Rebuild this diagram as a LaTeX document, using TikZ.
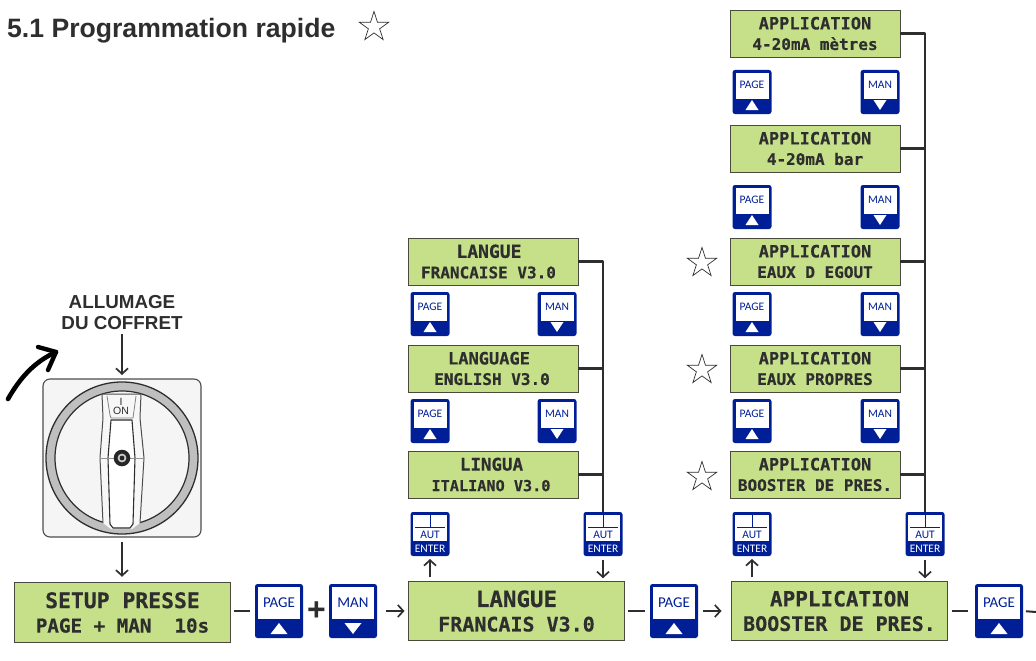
\documentclass[tikz,border=0pt]{standalone}
\usepackage{fontspec}
\setmainfont{Liberation Sans}
\newfontfamily\lcdfont{DejaVu Sans Mono}[BoldFeatures={FakeBold=0.4}]
\newfontfamily\keyfont{Carlito}
\usetikzlibrary{arrows.meta,shapes.geometric,calc}
\definecolor{lcdgreen}{HTML}{C6E08A}
\definecolor{lcdedge}{HTML}{4A4A3C}
\definecolor{keyblue}{HTML}{001F96}
\definecolor{inkdark}{HTML}{2E2E2E}
\tikzset{
  lcdbig/.style={draw=lcdedge,line width=0.9pt,fill=lcdgreen,minimum width=216,minimum height=59.5,inner sep=0,outer sep=0,align=center,text=inkdark,
    font=\lcdfont\bfseries\fontsize{20}{24.5}\selectfont},
  lcdsmall/.style={draw=lcdedge,line width=0.9pt,fill=lcdgreen,minimum width=170,minimum height=47,inner sep=0,outer sep=0,align=center,text=inkdark,
    font=\lcdfont\bfseries\fontsize{16}{20.5}\selectfont},
  keybig/.style={fill=keyblue,rounded corners=2.5pt,minimum width=48,minimum height=54,inner sep=0,outer sep=0},
  keysmall/.style={fill=keyblue,rounded corners=2.5pt,minimum width=39,minimum height=44,inner sep=0,outer sep=0},
  keylabel/.style={text=keyblue,inner sep=0,font=\keyfont\fontsize{#1}{#1}\selectfont},
  link/.style={draw=inkdark,line width=2pt},
  arrowlink/.style={draw=inkdark,line width=1.9pt,-{Straight Barb[length=5.5pt,width=12pt,line width=1.7pt]}},
  branch/.style={draw=inkdark,line width=2.1pt,line join=round},
  openstar/.style={draw=inkdark,line width=0.7pt,shape=star,star points=5,star point ratio=2.618,minimum size=31,inner sep=0,fill=white},
  heading/.style={text=inkdark,inner sep=0,font=\bfseries\fontsize{18.8}{21}\selectfont,align=center}
}
\newcommand{\fs}[1]{\fontsize{#1}{20.5}\selectfont}
\newcommand{\fb}[1]{\fontsize{#1}{24.5}\selectfont}
\newcommand{\bigkey}[5]{%
  \node[keybig] (#1) at (#2,#3) {};
  \fill[white] (#2-21,#3-24) rectangle (#2+21,#3+8);
  \node[keylabel=15] (#1t) at (#2,#3-8) {#4};
  \fill[white] (#2,{#3+23-(#5+1)/2*11}) -- (#2-8.5,{#3+23-(1-#5)/2*11}) -- (#2+8.5,{#3+23-(1-#5)/2*11}) -- cycle;
}
\newcommand{\smallkey}[5]{%
  \node[keysmall] (#1) at (#2,#3) {};
  \fill[white] (#2-16.5,#3-19) rectangle (#2+16.5,#3+7);
  \node[keylabel=11.5] (#1t) at (#2,#3-7) {#4};
  \fill[white] (#2,{#3+18-(#5+1)/2*10}) -- (#2-6.5,{#3+18-(1-#5)/2*10}) -- (#2+6.5,{#3+18-(1-#5)/2*10}) -- cycle;
}
\newcommand{\enterkey}[3]{%
  \node[keysmall] (#1) at (#2,#3) {};
  \fill[white] (#2-17,#3-19) rectangle (#2+17,#3+7);
  \draw[keyblue,line width=0.8pt] (#2-15,#3-7) -- (#2+15,#3-7) (#2,#3-19) -- (#2,#3-7);
  \node[keylabel=11.5] (#1t) at (#2,#3+0.5) {AUT};
  \node[keylabel=11.5,text=white] (#1u) at (#2,#3+15) {ENTER};
}
\begin{document}
\begin{tikzpicture}[x=1pt,y=-1pt]
\useasboundingbox (0,0) rectangle (1036,661);

% title and stars
\node[anchor=base west,inner sep=0,text=inkdark,font=\bfseries\fontsize{26.6}{30}\selectfont] (title) at (7,38) {5.1 Programmation rapide};
\node[openstar] (star0) at (374,27) {};
\node[openstar] (star1) at (702,263) {};
\node[openstar] (star2) at (702,370) {};
\node[openstar] (star3) at (702,477) {};

% switch
\node[heading] (allumage) at (122,313) {ALLUMAGE\\DU COFFRET};
\node[draw=inkdark!85,line width=1.1pt,fill=white!96!black,rounded corners=7pt,minimum size=158,inner sep=0,outer sep=0] (switch) at (122,458) {};
\draw[line width=9pt,draw=black!25] (122,458) circle (71.5);
\draw[line width=1.3pt,draw=inkdark] (122,458) circle (76);
\draw[line width=1.2pt,draw=inkdark] (122,458) circle (67);
\fill[white!97!black] (102,394) -- (141,394) -- (144,458) -- (140,523) -- (132,529) -- (111,529) -- (103,523) -- (100,458) -- cycle;
\draw[inkdark!85,line width=1pt,line join=round] (102,394) -- (141,394) -- (140,418) -- (144,458) -- (140,523);
\draw[inkdark!85,line width=1pt,line join=round] (102,394) -- (103,418) -- (100,458) -- (103,523);
\draw[inkdark!60,line width=0.8pt] (107,396) -- (110,415) -- (111,418) -- (133,418) -- (136,396);
\draw[inkdark,line width=1.1pt,line join=round,fill=white] (111,420) -- (132,420) -- (135,458) -- (133,524) -- (130,528) -- (113,528) -- (110,524) -- (108,458) -- cycle;
\node[inner sep=0,text=inkdark,align=center,font=\fontsize{10.5}{9}\selectfont] (onlabel) at (121,406) {I\\ON};
\draw[inkdark!50,line width=0.6pt] (100,458) -- (144,458);
\fill[black!85] (122,458) circle (8.3);
\fill[white!80!black] (122,458) circle (4.4);
\fill[black!85] (122,458) circle (2.4);
\coordinate (swingstart) at (8,399);
\coordinate (swingend) at (56,352);
\draw[black,line width=4.6pt,line cap=round,line join=round] (swingstart) .. controls (20,378) and (34,362) .. (swingend);
\draw[black,line width=4.4pt,line cap=round,line join=round] (38,347) -- (56,352) -- (48,370);

% main row
\node[lcdbig] (setup) at (122.5,612.5) {\fb{21.4}SETUP PRESSE\\\fb{19.2}PAGE + MAN~~10s};
\node[lcdbig] (langue) at (516.5,611) {\fb{22.5}LANGUE\\FRANCAIS V3.0};
\node[lcdbig] (appl) at (839.5,611) {\fb{21}APPLICATION\\BOOSTER DE PRES.};
\bigkey{kpage}{279}{611}{PAGE}{1}
\bigkey{kman}{353}{611}{MAN}{-1}
\bigkey{kpageb}{674}{611}{PAGE}{1}
\bigkey{kpagec}{999}{611}{PAGE}{1}
\node[inner sep=0,text=inkdark,font=\bfseries\fontsize{32}{32}\selectfont] (plus) at (316.5,611) {+};
\coordinate (rightend) at (1036,612);

% language column
\node[lcdsmall] (lfr) at (493,261.5) {\fs{18}LANGUE\kern8pt\\\fs{16}FRANCAISE V3.0\kern9pt};
\node[lcdsmall] (len) at (493,368.5) {\fs{17}LANGUAGE\kern8pt\\\fs{16}ENGLISH V3.0\kern2pt};
\node[lcdsmall] (lit) at (493,474.5) {\fs{17.5}LINGUA\kern3pt\\\fs{15.2}ITALIANO V3.0\kern4pt};
\smallkey{la}{430}{314}{PAGE}{1}
\smallkey{lb}{557}{314}{MAN}{-1}
\smallkey{lc}{430}{421}{PAGE}{1}
\smallkey{ld}{557}{421}{MAN}{-1}
\enterkey{le}{430}{534}
\enterkey{lf}{603}{534}

% application column
\node[lcdsmall] (am) at (815,33.5) {\fs{17}APPLICATION\\\fs{16}4-20mA mètres};
\node[lcdsmall] (ab) at (815,148.5) {\fs{17}APPLICATION\\\fs{16}4-20mA bar};
\node[lcdsmall] (ae) at (815,261.5) {\fs{17}APPLICATION\\\fs{16}EAUX D EGOUT};
\node[lcdsmall] (ap) at (815,368.5) {\fs{17}APPLICATION\\\fs{16}EAUX PROPRES};
\node[lcdsmall] (ao) at (815,474.5) {\fs{17}APPLICATION\\\fs{16}BOOSTER DE PRES.};
\smallkey{aa}{752}{92}{PAGE}{1}
\smallkey{ab1}{880}{92}{MAN}{-1}
\smallkey{ac}{752}{207}{PAGE}{1}
\smallkey{ad}{880}{207}{MAN}{-1}
\smallkey{af}{752}{314}{PAGE}{1}
\smallkey{ag}{880}{314}{MAN}{-1}
\smallkey{ah}{752}{421}{PAGE}{1}
\smallkey{ai}{880}{421}{MAN}{-1}
\enterkey{aj}{752}{534}
\enterkey{ak}{925}{534}

% connectors
\draw[link,shorten <=3pt,shorten >=5pt] (setup.east |- kpage.west) -- (kpage.west);
\draw[arrowlink,shorten <=9pt,shorten >=4pt] (kman.east) -- (langue.west);
\draw[link,shorten <=3pt,shorten >=5pt] (langue.east) -- (kpageb.west);
\draw[arrowlink,shorten <=5pt,shorten >=10pt] (kpageb.east) -- (appl.west);
\draw[link,shorten <=4pt,shorten >=7pt] (appl.east) -- (kpagec.west);
\draw[link,shorten <=3pt] (kpagec.east) -- (rightend);

\draw[arrowlink,shorten <=4pt,shorten >=3pt] (le.south |- langue.north) -- (le.south);
\draw[arrowlink,shorten <=4pt,shorten >=3pt] (lf.south) -- (lf.south |- langue.north);
\draw[arrowlink,shorten <=4pt,shorten >=3pt] (aj.south |- appl.north) -- (aj.south);
\draw[arrowlink,shorten <=4pt,shorten >=3pt] (ak.south) -- (ak.south |- appl.north);
\draw[arrowlink,shorten <=4pt,shorten >=4pt] (allumage.south -| switch.north) -- (switch.north);
\draw[arrowlink,shorten <=5pt,shorten >=6pt] (switch.south) -- (setup.north -| switch.south);

\draw[branch] (lfr.east) -| (lf.north);
\draw[branch] (len.east) -- (len.east -| lf.north);
\draw[branch] (lit.east) -- (lit.east -| lf.north);
\draw[branch] (am.east) -| (ak.north);
\draw[branch] (ab.east) -- (ab.east -| ak.north);
\draw[branch] (ae.east) -- (ae.east -| ak.north);
\draw[branch] (ap.east) -- (ap.east -| ak.north);
\draw[branch] (ao.east) -- (ao.east -| ak.north);
\end{tikzpicture}
\end{document}
